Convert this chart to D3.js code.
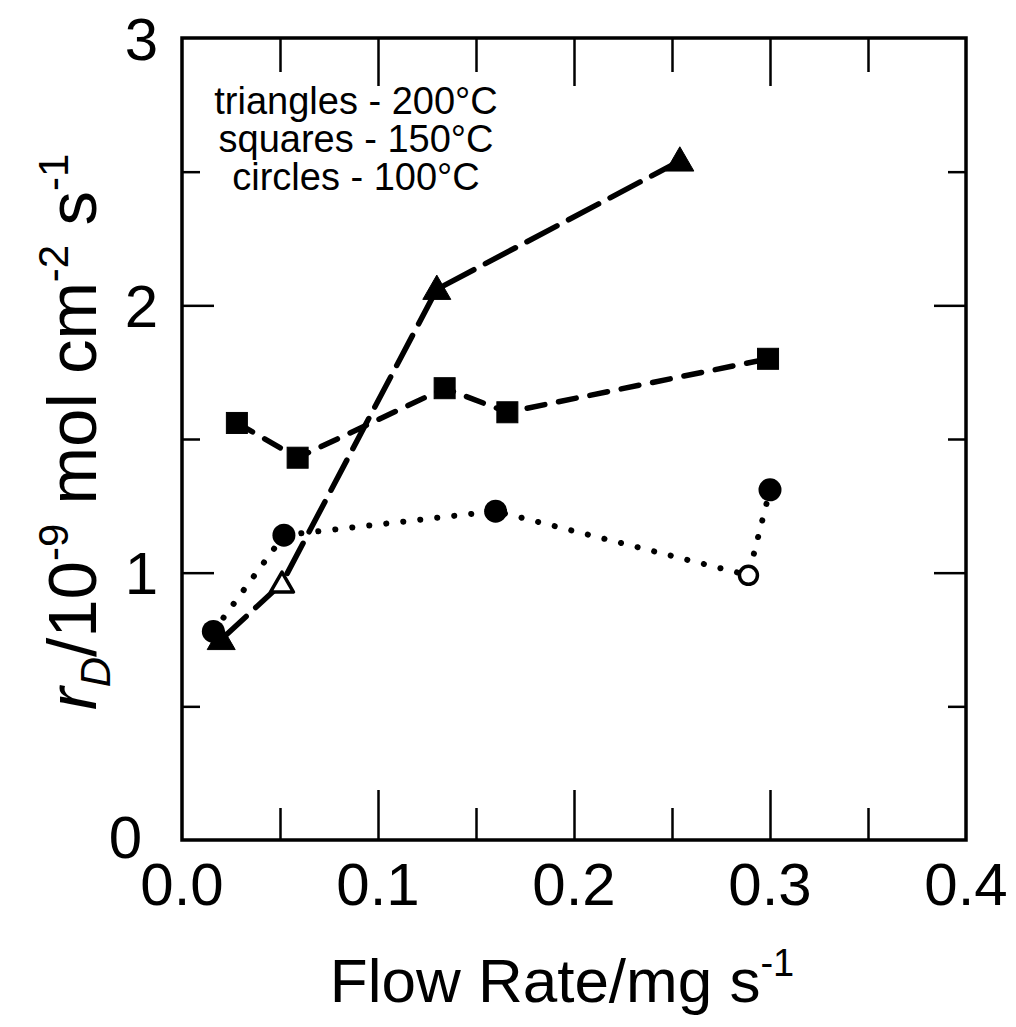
<!DOCTYPE html>
<html><head><meta charset="utf-8">
<script src="https://cdn.jsdelivr.net/npm/d3@7"></script>
<style>
body{margin:0;background:#fff;}
svg{display:block;font-family:"Liberation Sans",Arial,Helvetica,sans-serif;}
.domain{display:none;}
</style></head><body>
<svg id="c" width="1016" height="1027"></svg>
<script>
// Data
const triX = [0.020, 0.051, 0.130, 0.254];
const triY = [0.75, 0.96, 2.06, 2.54];
const triFilled = [true, false, true, true];

const sqX = [0.028, 0.059, 0.134, 0.166, 0.299];
const sqY = [1.56, 1.43, 1.69, 1.60, 1.80];
const sqFilled = [true, true, true, true, true];

const cirX = [0.016, 0.052, 0.160, 0.289, 0.300];
const cirY = [0.78, 1.14, 1.23, 0.99, 1.31];
const cirFilled = [true, true, true, false, true];

const xMajor = [0.0, 0.1, 0.2, 0.3, 0.4];
const xMinor = [0.05, 0.15, 0.25, 0.35];
const yMajor = [0, 1, 2, 3];
const yMinor = [0.5, 1.5, 2.5];
const legendLines = ["triangles - 200\u00B0C", "squares - 150\u00B0C", "circles - 100\u00B0C"];

const svg = d3.select("#c");
const L = 182, R = 966, T = 38, B = 840;
const x = d3.scaleLinear().domain([0, 0.4]).range([L, R]);
const y = d3.scaleLinear().domain([0, 3]).range([B, T]);

// ticks (inward) via d3 axes
function tk(axisFn, scale, vals, len, tr) {
  const g = svg.append("g").attr("transform", tr)
    .call(axisFn(scale).tickValues(vals).tickSize(-len).tickFormat(""));
  g.selectAll(".tick line").attr("stroke", "#000").attr("stroke-width", 2.5);
  g.selectAll("text").remove();
}
tk(d3.axisBottom, x, xMajor.slice(1, -1), 50, `translate(0,${B})`);
tk(d3.axisBottom, x, xMinor, 32, `translate(0,${B})`);
tk(d3.axisTop, x, xMajor.slice(1, -1), 48, `translate(0,${T})`);
tk(d3.axisTop, x, xMinor, 34, `translate(0,${T})`);
tk(d3.axisLeft, y, yMajor.slice(1, -1), 32, `translate(${L},0)`);
tk(d3.axisLeft, y, yMinor, 18, `translate(${L},0)`);
tk(d3.axisRight, y, yMajor.slice(1, -1), 32, `translate(${R},0)`);
tk(d3.axisRight, y, yMinor, 18, `translate(${R},0)`);

// frame
svg.append("rect").attr("x", L).attr("y", T).attr("width", R - L).attr("height", B - T)
  .attr("fill", "none").attr("stroke", "#000").attr("stroke-width", 3.5);

// tick labels
svg.append("g").selectAll("text").data(xMajor).join("text")
  .attr("x", d => x(d)).attr("y", 905).attr("text-anchor", "middle")
  .attr("font-size", 60).text(d => d.toFixed(1));
svg.append("g").selectAll("text").data(yMajor).join("text")
  .attr("x", d => d === 0 ? 142 : 158).attr("y", d => y(d)).attr("dy", d => d === 0 ? "0.3em" : "0.36em").attr("text-anchor", "end")
  .attr("font-size", 60).text(d => d);

// x title
const xt = svg.append("text").attr("x", 562).attr("y", 1002).attr("text-anchor", "middle").attr("font-size", 62);
xt.append("tspan").text("Flow Rate/mg s");
xt.append("tspan").attr("dy", -26).attr("font-size", 38).text("-1");

// y title
const yt = svg.append("text").attr("transform", "translate(96,432) rotate(-90)")
  .attr("text-anchor", "middle").attr("font-size", 69);
yt.append("tspan").attr("font-style", "italic").text("r");
yt.append("tspan").attr("font-style", "italic").attr("font-size", 42).attr("dy", 14).text("D");
yt.append("tspan").attr("dy", -14).text("/10");
yt.append("tspan").attr("font-size", 42).attr("dy", -28).text("-9");
yt.append("tspan").attr("dy", 28).text(" mol cm");
yt.append("tspan").attr("font-size", 42).attr("dy", -28).text("-2");
yt.append("tspan").attr("dy", 28).text(" s");
yt.append("tspan").attr("font-size", 42).attr("dy", -28).text("-1");

// legend text
svg.append("g").selectAll("text").data(legendLines).join("text")
  .attr("x", 356).attr("y", (d, i) => 114 + i * 38).attr("text-anchor", "middle")
  .attr("font-size", 38).text(d => d);

// lines
const line = d3.line().x(d => x(d[0])).y(d => y(d[1]));
const zip = (a, b, f) => a.map((v, i) => [v, b[i], f[i]]);
const tri = zip(triX, triY, triFilled), sq = zip(sqX, sqY, sqFilled), cir = zip(cirX, cirY, cirFilled);

svg.append("path").datum(cir).attr("d", line).attr("fill", "none").attr("stroke", "#000")
  .attr("stroke-width", 6).attr("stroke-linecap", "round").attr("stroke-dasharray", "0.1 17");
svg.append("path").datum(sq).attr("d", line).attr("fill", "none").attr("stroke", "#000")
  .attr("stroke-width", 5.5).attr("stroke-linecap", "round").attr("stroke-dasharray", "18 14");
svg.append("path").datum(tri).attr("d", line).attr("fill", "none").attr("stroke", "#000")
  .attr("stroke-width", 5.5).attr("stroke-linecap", "round").attr("stroke-dasharray", "34 13");

// markers
svg.append("g").selectAll("circle").data(cir).join("circle")
  .attr("cx", d => x(d[0])).attr("cy", d => y(d[1])).attr("r", d => d[2] ? 11.5 : 9)
  .attr("fill", d => d[2] ? "#000" : "#fff").attr("stroke", "#000").attr("stroke-width", d => d[2] ? 0 : 3.5);
svg.append("g").selectAll("rect").data(sq).join("rect")
  .attr("x", d => x(d[0]) - 10.5).attr("y", d => y(d[1]) - 10.5).attr("width", 21).attr("height", 21)
  .attr("fill", d => d[2] ? "#000" : "#fff").attr("stroke", "#000").attr("stroke-width", 1);
const triSym = d3.symbol().type(d3.symbolTriangle);
svg.append("g").selectAll("path").data(tri).join("path")
  .attr("transform", d => `translate(${x(d[0])},${y(d[1]) + 2})`)
  .attr("d", d => triSym.size(d[2] ? 340 : 230)())
  .attr("fill", d => d[2] ? "#000" : "#fff").attr("stroke", "#000")
  .attr("stroke-width", d => d[2] ? 1 : 3.5).attr("stroke-linejoin", "round");
</script></body></html>
